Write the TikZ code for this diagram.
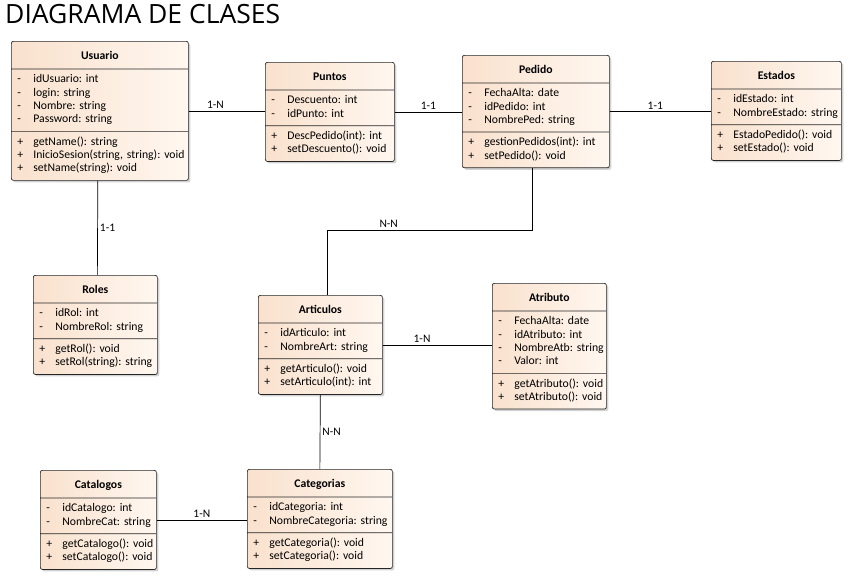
\documentclass[tikz,border=0pt]{standalone}
\usepackage{fontspec}
\setmainfont{Carlito}
\newfontfamily\titlefont{Open Sans}
\usepackage{tikz}
\usetikzlibrary{shapes.multipart,shadows,calc}

\definecolor{clsleft}{RGB}{249,225,205}
\definecolor{clsright}{RGB}{255,247,240}

% one line of a class compartment
\newcommand{\attr}[1]{\strut\makebox[16pt][l]{-}\mbox{#1}}
\newcommand{\meth}[1]{\strut\makebox[16pt][l]{+}\mbox{#1}}
\newcommand{\clsname}[1]{\rule[-5.5pt]{0pt}{18.6pt}\makebox[\hsize][c]{\textbf{#1}}}

\begin{document}
\frenchspacing
\begin{tikzpicture}[
  x=1pt,y=-1pt,
  cls/.style={rectangle split,rectangle split parts=3,draw=black!85,line width=0.7pt,
    rounded corners=2pt,left color=clsleft,right color=clsright,
    drop shadow={shadow xshift=2pt,shadow yshift=-2pt,fill=black!35},
    inner xsep=6pt,inner ysep=4.2pt,anchor=north west,align=left,
    font=\fontsize{11.7}{13.3}\selectfont},
  conn/.style={draw=black,line width=0.7pt},
  lab/.style={font=\fontsize{11.5}{12}\selectfont,inner sep=2pt}]
  \useasboundingbox (0,0) rectangle (853,584);

  \node[anchor=base west,font=\titlefont\fontsize{26.5}{28}\selectfont,inner sep=0pt] (title) at (5,23) {DIAGRAMA DE CLASES};

  % classes
  \node[cls,text width=165pt] (usuario) at (11,41) {\clsname{Usuario}
    \nodepart{second}\attr{idUsuario: int}\\ \attr{login: string}\\ \attr{Nombre: string}\\ \attr{Password: string}
    \nodepart{third}\meth{getName(): string}\\ \meth{InicioSesion(string, string): void}\\ \meth{setName(string): void}};
  \node[cls,text width=117pt] (puntos) at (265,62) {\clsname{Puntos}
    \nodepart{second}\attr{Descuento: int}\\ \attr{idPunto: int}
    \nodepart{third}\meth{DescPedido(int): int}\\ \meth{setDescuento(): void}};
  \node[cls,text width=135pt] (pedido) at (462,55) {\clsname{Pedido}
    \nodepart{second}\attr{FechaAlta: date}\\ \attr{idPedido: int}\\ \attr{NombrePed: string}
    \nodepart{third}\meth{gestionPedidos(int): int}\\ \meth{setPedido(): void}};
  \node[cls,text width=118pt] (estados) at (711,61) {\clsname{Estados}
    \nodepart{second}\attr{idEstado: int}\\ \attr{NombreEstado: string}
    \nodepart{third}\meth{EstadoPedido(): void}\\ \meth{setEstado(): void}};
  \node[cls,text width=112pt] (roles) at (33,275) {\clsname{Roles}
    \nodepart{second}\attr{idRol: int}\\ \attr{NombreRol: string}
    \nodepart{third}\meth{getRol(): void}\\ \meth{setRol(string): string}};
  \node[cls,text width=112pt] (articulos) at (258,295) {\clsname{Articulos}
    \nodepart{second}\attr{idArticulo: int}\\ \attr{NombreArt: string}
    \nodepart{third}\meth{getArticulo(): void}\\ \meth{setArticulo(int): int}};
  \node[cls,text width=102pt] (atributo) at (492,283) {\clsname{Atributo}
    \nodepart{second}\attr{FechaAlta: date}\\ \attr{idAtributo: int}\\ \attr{NombreAtb: string}\\ \attr{Valor: int}
    \nodepart{third}\meth{getAtributo(): void}\\ \meth{setAtributo(): void}};
  \node[cls,text width=104pt] (catalogos) at (40,470) {\clsname{Catalogos}
    \nodepart{second}\attr{idCatalogo: int}\\ \attr{NombreCat: string}
    \nodepart{third}\meth{getCatalogo(): void}\\ \meth{setCatalogo(): void}};
  \node[cls,text width=133pt] (categorias) at (247,469) {\clsname{Categorias}
    \nodepart{second}\attr{idCategoria: int}\\ \attr{NombreCategoria: string}
    \nodepart{third}\meth{getCategoria(): void}\\ \meth{setCategoria(): void}};

  % relations
  \draw[conn] (usuario.east) -- node[lab,above,pos=0.35]{1-N} (usuario.east -| puntos.west);
  \draw[conn] (puntos.east) -- node[lab,above]{1-1} (puntos.east -| pedido.west);
  \draw[conn] (pedido.east) -- node[lab,above,pos=0.45]{1-1} (pedido.east -| estados.west);
  \draw[conn] ([xshift=-2pt]usuario.south) -- node[lab,right,pos=0.5]{1-1} ([xshift=2pt]roles.north);
  \draw[conn] ([xshift=-4pt]pedido.south) -- ++(0,62) -| node[lab,above,pos=0.35]{N-N} ([xshift=7pt]articulos.north);
  \draw[conn] (articulos.east) -- node[lab,above,pos=0.36]{1-N} (articulos.east -| atributo.west);
  \draw[conn] (articulos.south) -- node[lab,right]{N-N} (categorias.north);
  \draw[conn] (catalogos.east) -- node[lab,above]{1-N} (catalogos.east -| categorias.west);
\end{tikzpicture}
\end{document}
